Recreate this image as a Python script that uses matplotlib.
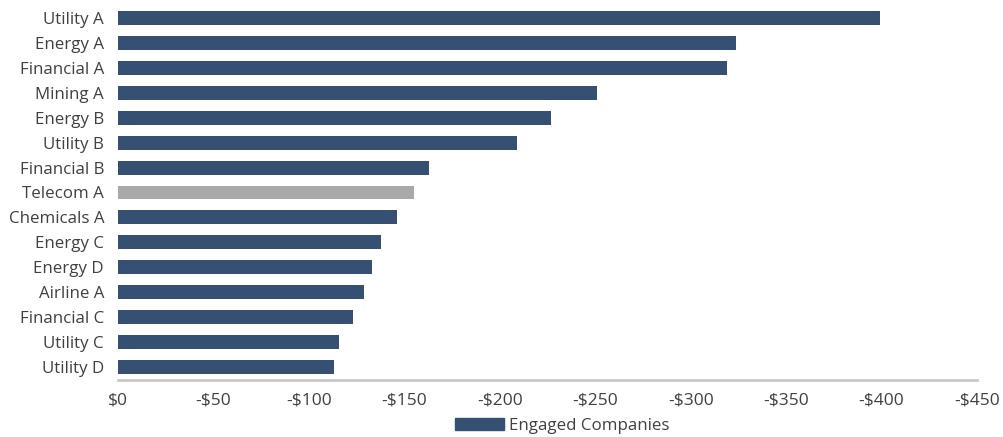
import matplotlib
matplotlib.use("Agg")
import matplotlib.pyplot as plt
from matplotlib.patches import Patch
from matplotlib.ticker import FuncFormatter

categories = ["Utility A", "Energy A", "Financial A", "Mining A", "Energy B", "Utility B",
              "Financial B", "Telecom A", "Chemicals A", "Energy C", "Energy D", "Airline A",
              "Financial C", "Utility C", "Utility D"]
values = [-399, -324, -319, -251, -227, -209, -163, -155, -146, -138, -133, -129, -123, -116, -113]
highlight = ["Telecom A"]
ticks = [0, -50, -100, -150, -200, -250, -300, -350, -400, -450]
legend_label = "Engaged Companies"

BLUE = "#355072"
GRAY = "#A8A9AB"
TXT = "#404040"

plt.rcParams['font.family'] = ['Open Sans', 'DejaVu Sans']

fig = plt.figure(figsize=(10.04, 4.37), dpi=100)
W, H = 1004, 437
left, right, top, bottom = 118, 977, 5.5, 379.5
ax = fig.add_axes([left / W, 1 - bottom / H, (right - left) / W, (bottom - top) / H])

colors = [GRAY if c in highlight else BLUE for c in categories]
ypos = list(range(len(categories)))
ax.barh(ypos, values, height=0.56, color=colors)
ax.set_ylim(len(categories) - 0.5, -0.5)
ax.set_xlim(0, -450)
ax.set_yticks(ypos)
ax.set_yticklabels(categories, fontsize=12.2, color=TXT)
ax.set_xticks(ticks)
ax.xaxis.set_major_formatter(FuncFormatter(lambda v, p: "$0" if v == 0 else f"-${abs(int(v))}"))
ax.tick_params(axis='x', labelsize=12.5, labelcolor=TXT, length=0, pad=9)
ax.tick_params(axis='y', length=0, pad=10)
for s in ["top", "right", "left"]:
    ax.spines[s].set_visible(False)
ax.spines["bottom"].set_color("#C8C8C8")
ax.spines["bottom"].set_linewidth(2)

fig.legend(handles=[Patch(color=BLUE, label=legend_label)], loc="center",
           bbox_to_anchor=(562 / W, 1 - 426 / H), frameon=False, fontsize=12.2,
           labelcolor=TXT, handlelength=2.9, handleheight=0.75, handletextpad=0.3)

fig.savefig("out.png", dpi=100)
